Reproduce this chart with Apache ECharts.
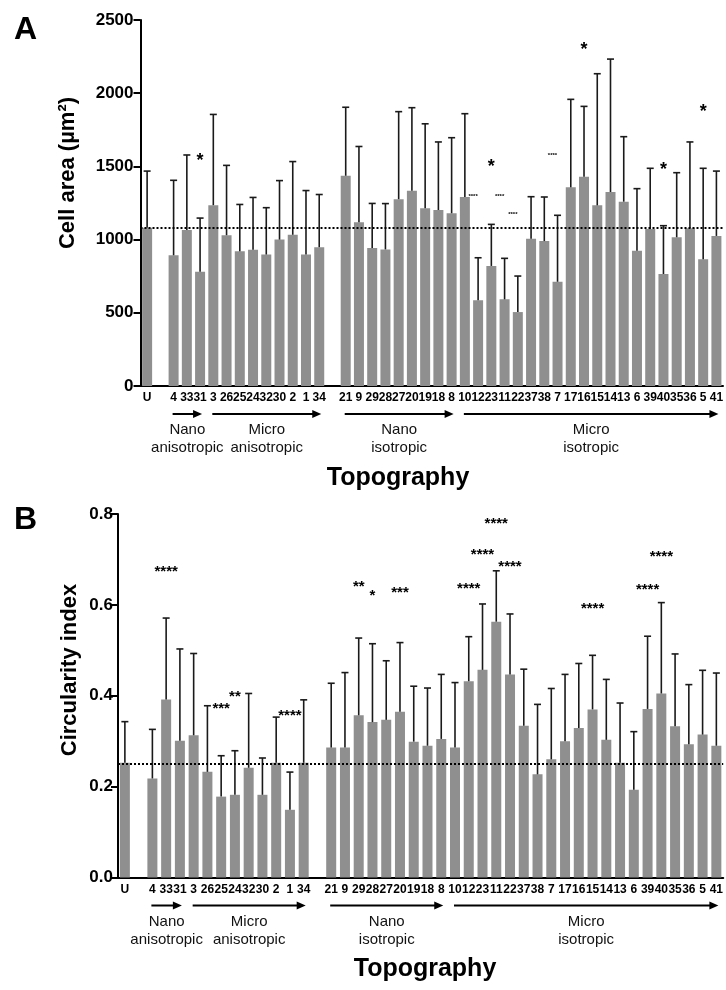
<!DOCTYPE html>
<html>
<head>
<meta charset="utf-8">
<script src="https://cdn.jsdelivr.net/npm/echarts@6/dist/echarts.min.js"></script>
<style>
html, body { margin: 0; padding: 0; background: #fff; }
#chart { width: 726px; height: 990px; }
</style>
</head>
<body>
<div id="chart"></div>
<script>
// topographies in plotting order (U = unpatterned control)
const topographies = ['U', '4', '33', '31', '3', '26', '25', '24', '32', '30', '2', '1', '34',
  '21', '9', '29', '28', '27', '20', '19', '18', '8',
  '10', '12', '23', '11', '22', '37', '38', '7', '17', '16', '15', '14', '13', '6', '39', '40', '35', '36', '5', '41'];
const spacerAfter = ['U', '34'];

// panel A: cell area, mean and SD
const areaMean = [1081, 893, 1066, 781, 1235, 1030, 920, 931, 898, 1000, 1033, 898, 948,
  1436, 1119, 942, 933, 1276, 1333, 1214, 1202, 1180,
  1291, 585, 820, 592, 505, 1006, 990, 712, 1357, 1430, 1234, 1325, 1259, 924, 1072, 765, 1016, 1077, 865, 1025];
const areaSD = [387, 512, 512, 366, 620, 477, 320, 357, 320, 403, 500, 437, 360,
  468, 517, 305, 313, 598, 568, 577, 465, 516,
  569, 291, 284, 280, 246, 287, 301, 454, 601, 480, 899, 908, 444, 424, 415, 330, 441, 590, 622, 443];

// panel B: circularity index, mean and SD
const circMean = [0.2525, 0.218, 0.392, 0.301, 0.313, 0.2325, 0.178, 0.182, 0.2415, 0.182, 0.2525, 0.149, 0.2525,
  0.286, 0.286, 0.357, 0.342, 0.347, 0.365, 0.299, 0.290, 0.305,
  0.286, 0.432, 0.457, 0.563, 0.447, 0.334, 0.227, 0.260, 0.300, 0.329, 0.370, 0.303, 0.2525, 0.193, 0.371, 0.405, 0.333, 0.293, 0.3145, 0.290];
const circSD = [0.0905, 0.108, 0.179, 0.202, 0.180, 0.1455, 0.090, 0.097, 0.1635, 0.081, 0.1005, 0.083, 0.1385,
  0.1415, 0.165, 0.170, 0.1725, 0.130, 0.152, 0.122, 0.127, 0.142,
  0.143, 0.098, 0.145, 0.112, 0.133, 0.1245, 0.154, 0.156, 0.147, 0.142, 0.119, 0.133, 0.1315, 0.128, 0.160, 0.200, 0.159, 0.1315, 0.1415, 0.160];

// significance marks
const areaStarCat = ['31', '23', '16', '40', '5'];
const areaStarY = [1566, 1521, 2324, 1505, 1897];
const areaTinyCat = ['12', '11', '22', '7'];
const areaTinyY = [1302, 1302, 1180, 1587];
const circStarCat = ['33', '25', '24', '1', '29', '28', '20', '12', '23', '11', '22', '15', '39', '40'];
const circStarY = [0.681, 0.378, 0.404, 0.362, 0.646, 0.627, 0.633, 0.642, 0.717, 0.786, 0.691, 0.599, 0.640, 0.713];
const circStarText = ['****', '***', '**', '****', '**', '*', '***', '****', '****', '****', '****', '****', '****', '****'];

// topography groups under the x axis
const groupNames = ['Nano\nanisotropic', 'Micro\nanisotropic', 'Nano\nisotropic', 'Micro\nisotropic'];
const groupFirst = ['4', '3', '21', '10'];
const groupLast = ['31', '34', '8', '41'];

const FONT = "'Liberation Sans', Arial, Helvetica, sans-serif";
const NARROW = "'Liberation Sans Narrow', 'Liberation Sans', Arial, sans-serif";

let axisCats = [];
let gapNo = 0;
topographies.forEach(t => {
  axisCats.push(t);
  if (spacerAfter.indexOf(t) >= 0) { gapNo++; axisCats.push(' '.repeat(gapNo)); }
});
const isGap = c => c.trim() === '';
const catIdx = c => axisCats.indexOf(c);

function barData(means) {
  return axisCats.map(c => {
    let i = topographies.indexOf(c);
    return i >= 0 ? means[i] : '-';
  });
}
function errData(means, sds) {
  return topographies.map((t, i) => [catIdx(t), means[i], means[i] + sds[i]]);
}

function renderErr(params, api) {
  let base = api.coord([api.value(0), api.value(1)]);
  let top = api.coord([api.value(0), api.value(2)]);
  let st = { stroke: '#1a1a1a', lineWidth: 1.6 };
  return {
    type: 'group',
    children: [
      { type: 'line', shape: { x1: base[0], y1: base[1], x2: top[0], y2: top[1] }, style: st },
      { type: 'line', shape: { x1: top[0] - 3.5, y1: top[1], x2: top[0] + 3.5, y2: top[1] }, style: st }
    ]
  };
}

function starRenderer(texts, size, dx) {
  return function (params, api) {
    let p = api.coord([api.value(0), api.value(1)]);
    return {
      type: 'text',
      x: p[0] + dx,
      y: p[1] + size * 0.22,
      style: {
        text: texts[params.dataIndex],
        font: 'bold ' + size + 'px ' + FONT,
        fill: '#000',
        align: 'center', verticalAlign: 'middle',
        textAlign: 'center', textVerticalAlign: 'middle'
      }
    };
  };
}

function xAxisOpt(gridIndex) {
  return {
    type: 'category',
    gridIndex: gridIndex,
    data: axisCats,
    axisLine: { lineStyle: { color: '#000', width: 2 } },
    axisTick: { alignWithLabel: true, length: 4, lineStyle: { color: '#000', width: 1.5 },
      interval: (i, v) => !isGap(v) },
    axisLabel: { interval: 0, color: '#000', fontFamily: NARROW, fontWeight: 'bold', fontSize: 12, margin: 6 },
    splitLine: { show: false }
  };
}
function yAxisOpt(gridIndex, max, step, fmt, margin) {
  return {
    type: 'value',
    gridIndex: gridIndex,
    min: 0, max: max, interval: step,
    axisLine: { show: true, lineStyle: { color: '#000', width: 2 } },
    axisTick: { show: true, length: 7, lineStyle: { color: '#000', width: 2 } },
    axisLabel: { color: '#000', fontFamily: FONT, fontWeight: 'bold', fontSize: 17, margin: margin, formatter: fmt },
    splitLine: { show: false }
  };
}
function refLine(value) {
  return {
    silent: true,
    symbol: 'none',
    label: { show: false },
    lineStyle: { color: '#000', width: 2, type: [2, 2] },
    data: [{ yAxis: value }]
  };
}

const chart = echarts.init(document.getElementById('chart'));
chart.setOption({
  animation: false,
  grid: [
    { left: 140.5, top: 20, width: 590, height: 366 },
    { left: 118, top: 514, width: 607, height: 363.5 }
  ],
  xAxis: [xAxisOpt(0), xAxisOpt(1)],
  yAxis: [
    yAxisOpt(0, 2500, 500, v => v, 7),
    yAxisOpt(1, 0.8, 0.2, v => v.toFixed(1), 5)
  ],
  series: [
    { type: 'bar', xAxisIndex: 0, yAxisIndex: 0, data: barData(areaMean), barWidth: 10,
      itemStyle: { color: '#8f8f8f' }, markLine: refLine(areaMean[0]) },
    { type: 'custom', xAxisIndex: 0, yAxisIndex: 0, data: errData(areaMean, areaSD), renderItem: renderErr, z: 3 },
    { type: 'custom', xAxisIndex: 0, yAxisIndex: 0, renderItem: starRenderer(areaStarCat.map(() => '*'), 18, 0),
      data: areaStarCat.map((c, i) => [catIdx(c), areaStarY[i]]), z: 4 },
    { type: 'custom', xAxisIndex: 0, yAxisIndex: 0, renderItem: starRenderer(areaTinyCat.map(() => '****'), 6, -5),
      data: areaTinyCat.map((c, i) => [catIdx(c), areaTinyY[i]]), z: 4 },

    { type: 'bar', xAxisIndex: 1, yAxisIndex: 1, data: barData(circMean), barWidth: 10,
      itemStyle: { color: '#8f8f8f' }, markLine: refLine(circMean[0]) },
    { type: 'custom', xAxisIndex: 1, yAxisIndex: 1, data: errData(circMean, circSD), renderItem: renderErr, z: 3 },
    { type: 'custom', xAxisIndex: 1, yAxisIndex: 1, renderItem: starRenderer(circStarText, 15, 0),
      data: circStarCat.map((c, i) => [catIdx(c), circStarY[i]]), z: 4 }
  ]
});

// annotations below the axes, placed from the axis scales
function panelGraphics(axisIndex, topoX, titleX, titleY, letter, letterY) {
  let els = [];
  let bottom = chart.convertToPixel({ yAxisIndex: axisIndex }, 0);
  groupNames.forEach((name, g) => {
    let x1 = chart.convertToPixel({ xAxisIndex: axisIndex }, catIdx(groupFirst[g])) - 1;
    let x2 = chart.convertToPixel({ xAxisIndex: axisIndex }, catIdx(groupLast[g])) + 2;
    let y = bottom + 28;
    els.push({ type: 'line', shape: { x1: x1, y1: y, x2: x2 - 6, y2: y }, style: { stroke: '#000', lineWidth: 2 } });
    els.push({ type: 'polygon', shape: { points: [[x2 - 9, y - 4], [x2, y], [x2 - 9, y + 4]] }, style: { fill: '#000' } });
    els.push({ type: 'text', x: (x1 + x2) / 2, y: bottom + 35,
      style: { text: name, font: '15px ' + FONT, fill: '#111', lineHeight: 18,
        align: 'center', verticalAlign: 'top', textAlign: 'center', textVerticalAlign: 'top' } });
  });
  els.push({ type: 'text', x: topoX, y: bottom + 92,
    style: { text: 'Topography', font: 'bold 25px ' + FONT, fill: '#000',
      align: 'center', verticalAlign: 'middle', textAlign: 'center', textVerticalAlign: 'middle' } });
  els.push({ type: 'text', x: titleX, y: titleY, rotation: Math.PI / 2,
    style: { text: axisIndex === 0 ? 'Cell area (µm²)' : 'Circularity index', font: 'bold 22px ' + FONT, fill: '#000',
      align: 'center', verticalAlign: 'middle', textAlign: 'center', textVerticalAlign: 'middle' } });
  els.push({ type: 'text', x: 14, y: letterY,
    style: { text: letter, font: 'bold 32px ' + FONT, fill: '#000',
      align: 'left', verticalAlign: 'middle', textAlign: 'left', textVerticalAlign: 'middle' } });
  return els;
}

chart.setOption({
  graphic: [].concat(
    panelGraphics(0, 398, 68, 173, 'A', 30),
    panelGraphics(1, 425, 70, 670, 'B', 520)
  )
});
</script>
</body>
</html>
